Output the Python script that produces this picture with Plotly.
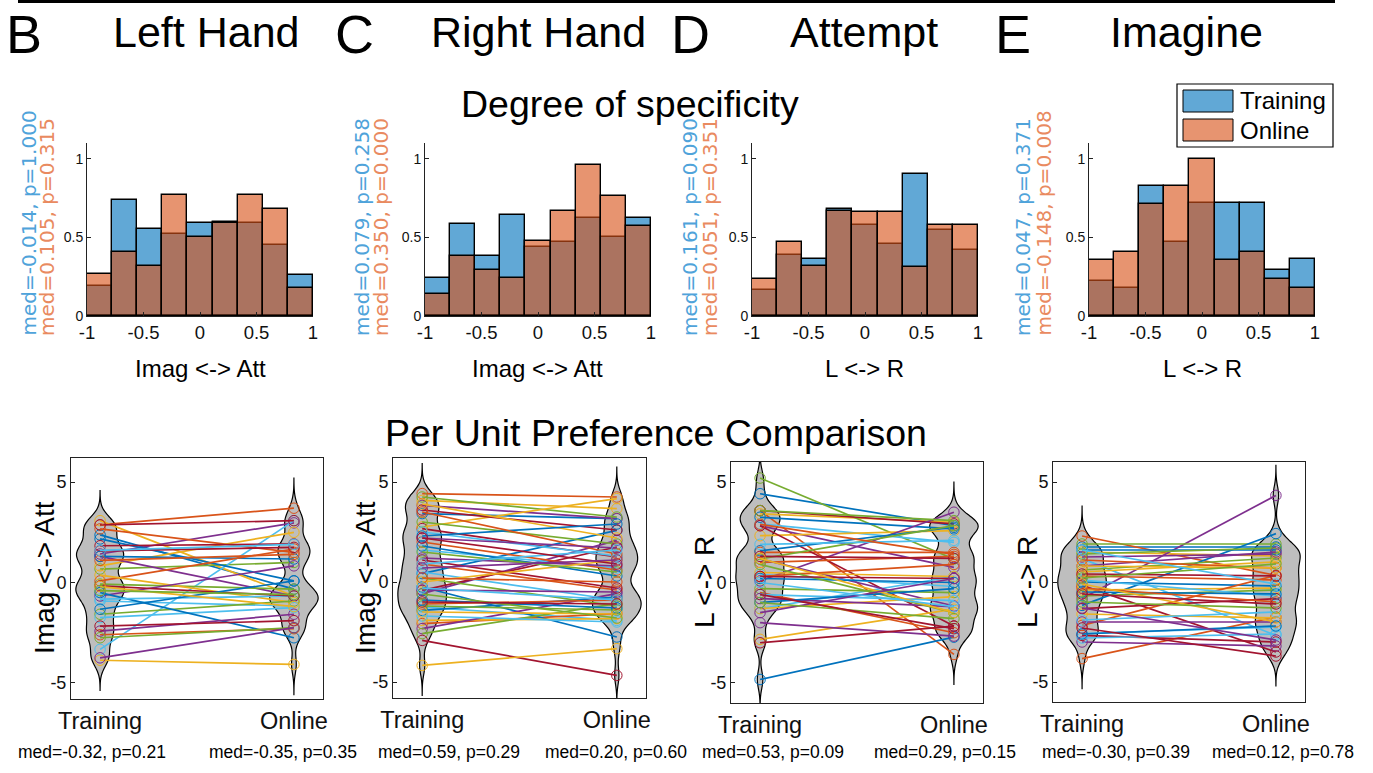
import plotly.graph_objects as go

W, H = 1373, 773


def px(x):
    return x / W


def py(y):
    return 1 - y / H


# ---------------- data ----------------
bin_centers = [-0.889, -0.667, -0.444, -0.222, 0.0, 0.222, 0.444, 0.667, 0.889]
bin_width = 2 / 9

lh_train = [0.19, 0.74, 0.555, 0.52, 0.59, 0.60, 0.59, 0.45, 0.26]
lh_online = [0.27, 0.41, 0.32, 0.77, 0.50, 0.59, 0.77, 0.68, 0.18]
rh_train = [0.24, 0.585, 0.38, 0.64, 0.44, 0.47, 0.62, 0.50, 0.62]
rh_online = [0.14, 0.38, 0.29, 0.24, 0.48, 0.67, 0.96, 0.765, 0.57]
att_train = [0.165, 0.39, 0.36, 0.68, 0.58, 0.455, 0.905, 0.55, 0.42]
att_online = [0.235, 0.47, 0.32, 0.665, 0.66, 0.66, 0.314, 0.58, 0.58]
img_train = [0.22, 0.18, 0.826, 0.47, 0.72, 0.72, 0.72, 0.29, 0.36]
img_online = [0.356, 0.41, 0.71, 0.826, 1.0, 0.356, 0.41, 0.235, 0.18]

panel_letters = ["B", "C", "D", "E"]
panel_titles = ["Left Hand", "Right Hand", "Attempt", "Imagine"]
hist_xlabels = ["Imag <-> Att", "Imag <-> Att", "L <-> R", "L <-> R"]
hist_med_train = ["med=-0.014, p=1.000", "med=0.079, p=0.258", "med=0.161, p=0.090", "med=0.047, p=0.371"]
hist_med_online = ["med=0.105, p=0.315", "med=0.350, p=0.000", "med=0.051, p=0.351", "med=-0.148, p=0.008"]
series_names = ["Training", "Online"]

# per-unit preference (Training value, Online value)
lh_unit_train = [2.37, 2.87, 3.08, 1.42, 0.67, -3.33, 2.87,
                 2.17, 2.67, 0.83, 1.30, -0.08, -0.92, 1.83,
                 1.30, 0.08, 0.37, -0.67, -1.58, -1.75, 1.58,
                 -0.50, -2.60, -3.87, -2.42, -2.75, -0.83, -0.17,
                 -1.33, 1.10, -0.20, -3.75, -0.40, 1.60, -2.17]
lh_unit_online = [-0.33, 3.70, -0.67, 2.97, 1.00, 3.08, 3.08,
                  0.08, 1.50, 2.50, -0.67, -0.33, -1.17, 1.92,
                  1.17, 1.67, -1.00, 0.83, -0.92, -1.25, 1.75,
                  -2.75, -2.30, -4.08, -1.58, -2.25, -0.67, -0.67,
                  0.08, 1.40, -1.20, -2.25, -0.60, 1.90, -1.90]

rh_unit_train = [3.42, 4.42, 4.08, 3.83, 4.25, -1.25, 2.67,
                 0.42, -2.08, 2.75, -0.58, 3.00, 1.60, -0.42,
                 -0.25, 0.90, -1.92, -2.33, -2.58, 0.50, -2.92,
                 -1.42, 2.00, -4.17, 1.20, 0.20, 2.50, 3.60,
                 1.80, -1.10, 3.90, -0.40, -1.20, -1.70, 1.10,
                 2.30, 3.50, 0.00, 2.20, 1.50, 0.90, 2.20,
                 -0.90, 0.20, -1.50, 0.70, -0.60, -0.30, -1.00]
rh_unit_online = [3.17, 4.25, 3.67, 3.17, 3.25, -1.92, 1.25,
                  2.58, -1.58, 4.17, 2.08, 1.90, 0.70, 1.75,
                  -2.75, -0.40, -1.83, -0.58, -1.08, -0.90, -4.67,
                  -0.75, 0.60, -3.33, 0.80, -1.20, 1.30, 2.60,
                  0.30, -0.90, 2.20, -0.50, -1.40, -2.00, -0.30,
                  2.90, 1.40, 1.10, 1.70, 0.50, 1.60, 0.90,
                  -1.30, 0.00, -1.60, 1.10, -1.80, -0.90, -1.10]

att_unit_train = [4.42, 3.58, 3.42, 2.83, 5.20, 2.92, 3.58,
                  3.25, 1.50, 2.33, 0.08, 3.58, -1.30, 2.83,
                  1.58, 1.00, -2.83, 1.17, 1.17, 0.40, 1.30,
                  -4.83, -0.50, 0.50, -2.00, -0.30, 1.90, -3.00,
                  0.20, 0.30, -1.30, -0.80, 0.90, -0.60, 0.30,
                  -1.00, 2.90, 1.20, -1.50, -1.00, 0.00, -0.60]
att_unit_online = [2.83, -3.58, 3.00, 0.75, 1.17, 2.00, 2.92,
                   2.67, 1.50, 2.58, 3.50, 3.08, 0.30, -2.17,
                   2.75, 1.30, -1.33, -1.17, 2.83, -0.20, 1.20,
                   -2.72, -2.50, 0.30, -2.67, -0.50, 2.10, -2.17,
                   0.00, 0.90, -0.70, -1.20, -1.50, -0.90, 0.20,
                   -0.30, 1.40, -1.50, 0.20, -1.80, -1.20, -2.30]

img_unit_train = [1.75, 2.30, 1.50, -0.83, 1.90, 1.17, -0.17,
                  -1.17, -3.83, -0.40, 1.25, 0.60, -2.58, -2.67,
                  0.00, -2.17, -1.60, -2.00, -0.70, 0.10, -1.33,
                  1.60, 0.30, 0.50, -3.00, 1.40, -1.90, 0.40,
                  -0.50, -0.30, -0.10, 0.80, -1.00, -2.80, -0.60,
                  -2.60, 1.10, 0.80, -1.30, 0.20, 1.60, -2.30]
img_unit_online = [1.75, 0.33, 1.30, 4.33, 1.90, -2.67, -3.50,
                   2.42, -1.75, -0.30, 1.40, 1.20, -2.25, -3.00,
                   -0.20, 0.33, -1.80, -2.00, -0.40, -0.70, -0.83,
                   1.60, 0.10, 1.00, -3.20, 1.70, -1.50, 0.30,
                   -0.60, -1.00, -2.00, 1.50, -1.30, -2.60, -1.10,
                   -2.20, 0.70, 0.70, -2.90, 0.90, -0.10, -3.70]

unit_ylabels = ["Imag <-> Att", "Imag <-> Att", "L <-> R", "L <-> R"]
unit_categories = ["Training", "Online"]
unit_med_train = ["med=-0.32, p=0.21", "med=0.59, p=0.29", "med=0.53, p=0.09", "med=-0.30, p=0.39"]
unit_med_online = ["med=-0.35, p=0.35", "med=0.20, p=0.60", "med=0.29, p=0.15", "med=0.12, p=0.78"]

# ---------------- style ----------------
C_TRAIN = "rgba(0,114,189,0.62)"
C_ONLINE = "rgba(217,83,25,0.62)"
TXT_BLUE = "#4FA3DA"
TXT_ORANGE = "#E98A60"
LINE_COLORS = ["#0072BD", "#D95319", "#EDB120", "#7E2F8E", "#77AC30", "#4DBEEE", "#A2142F"]
SANS = "Liberation Sans, Arial, Helvetica, sans-serif"
NARROW = "Liberation Sans Narrow, Arial Narrow, Liberation Sans, Arial, sans-serif"
WIDE = "DejaVu Sans, Verdana, sans-serif"

hist_sets = [(lh_train, lh_online), (rh_train, rh_online), (att_train, att_online), (img_train, img_online)]
unit_sets = [(lh_unit_train, lh_unit_online), (rh_unit_train, rh_unit_online),
             (att_unit_train, att_unit_online), (img_unit_train, img_unit_online)]

hist_xdom = [(87, 313), (425, 651), (752, 978), (1089, 1315)]
hist_ydom = (143, 316)
unit_xdom = [(71, 323), (393, 646), (731, 983), (1053, 1305)]
unit_ydom = [(458, 699), (458, 698), (462, 703), (462, 702)]
unit_yrange = [(-5.8, 6.2), (-5.8, 6.2), (-6.0, 6.0), (-6.0, 6.0)]

fig = go.Figure()
layout = {}
annotations = []
shapes = []

# ---------------- histograms ----------------
for i, (tr, on) in enumerate(hist_sets):
    k = i + 1
    xa = "x" if k == 1 else f"x{k}"
    ya = "y" if k == 1 else f"y{k}"
    for vals, col, nm in ((tr, C_TRAIN, series_names[0]), (on, C_ONLINE, series_names[1])):
        fig.add_trace(go.Bar(x=bin_centers, y=vals, width=bin_width, name=nm,
                             marker=dict(color=col, line=dict(color="black", width=1.4)),
                             showlegend=False, xaxis=xa, yaxis=ya, hoverinfo="x+y"))
    x0, x1 = hist_xdom[i]
    layout["xaxis" if k == 1 else f"xaxis{k}"] = dict(
        domain=[px(x0), px(x1)], range=[-1, 1], anchor=ya, automargin=False,
        tickvals=[-1, -0.5, 0, 0.5, 1], ticktext=["-1", "-0.5", "0", "0.5", "1"],
        ticks="inside", ticklen=4, tickcolor="#222", showline=True, linecolor="#222", linewidth=1,
        showgrid=False, zeroline=False, tickfont=dict(family=SANS, size=18.5, color="#111"))
    layout["yaxis" if k == 1 else f"yaxis{k}"] = dict(
        domain=[py(hist_ydom[1]), py(hist_ydom[0])], range=[0, 1.1], anchor=xa, automargin=False,
        tickvals=[0, 0.5, 1], ticktext=["0", "0.5", "1"],
        ticks="inside", ticklen=4, tickcolor="#222", showline=True, linecolor="#222", linewidth=1,
        showgrid=False, zeroline=False, tickfont=dict(family=NARROW, size=14, color="#111"))

# ---------------- per unit comparison ----------------
for i, (tr, on) in enumerate(unit_sets):
    k = i + 5
    xa, ya = f"x{k}", f"y{k}"
    for pos, vals in ((1, tr), (2, on)):
        fig.add_trace(go.Violin(y=vals, x0=pos, width=0.25, side="both", bandwidth=0.45,
                                spanmode="manual", span=[min(vals) - 1.5, max(vals) + 1.5],
                                scalemode="width", points=False,
                                box=dict(visible=False), meanline=dict(visible=False),
                                fillcolor="rgb(190,190,190)", line=dict(color="black", width=1.2),
                                opacity=1, showlegend=False, hoverinfo="skip",
                                xaxis=xa, yaxis=ya))
    for j, (a, b) in enumerate(zip(tr, on)):
        c = LINE_COLORS[j % len(LINE_COLORS)]
        fig.add_trace(go.Scatter(x=[1, 2], y=[a, b], mode="lines+markers",
                                 line=dict(color=c, width=1.7),
                                 marker=dict(symbol="circle-open", size=10.5, color=c, line=dict(width=1)),
                                 showlegend=False, xaxis=xa, yaxis=ya))
    x0, x1 = unit_xdom[i]
    y0, y1 = unit_ydom[i]
    layout[f"xaxis{k}"] = dict(
        domain=[px(x0), px(x1)], range=[0.85, 2.15], anchor=ya, automargin=False,
        tickvals=[1, 2], ticktext=unit_categories, ticks="", ticklabelstandoff=1,
        showline=True, mirror=True, linecolor="#222", linewidth=1,
        showgrid=False, zeroline=False, tickfont=dict(family=SANS, size=23.5, color="#111"))
    layout[f"yaxis{k}"] = dict(
        domain=[py(y1), py(y0)], range=list(unit_yrange[i]), anchor=xa, automargin=False,
        tickvals=[-5, 0, 5], ticktext=["-5", "0", "5"],
        ticks="inside", ticklen=4, tickcolor="#222",
        showline=True, mirror=True, linecolor="#222", linewidth=1,
        showgrid=False, zeroline=False, tickfont=dict(family=NARROW, size=18, color="#111"))


# ---------------- text ----------------
def ann(text, x, y, size, family=SANS, color="#000", angle=0, xanchor="center", yanchor="middle"):
    annotations.append(dict(text=text, x=px(x), y=py(y), xref="paper", yref="paper",
                            showarrow=False, font=dict(family=family, size=size, color=color),
                            textangle=angle, xanchor=xanchor, yanchor=yanchor))


letter_x = [24, 354, 690, 1013]
title_x = [206, 538, 864, 1186]
for i in range(4):
    ann(panel_letters[i], letter_x[i], 34, 54)
    ann(panel_titles[i], title_x[i], 32, 43)

ann("Degree of specificity", 630, 104, 37.5)
ann("Per Unit Preference Comparison", 656, 433, 37.5)

hist_xlabel_x = [200, 537, 864, 1202]
med_blue_x = [28, 362, 690, 1023]
med_orange_x = [47, 381, 710, 1043]
for i in range(4):
    ann(hist_xlabels[i], hist_xlabel_x[i], 368, 24, family=NARROW)
    ann(hist_med_train[i], med_blue_x[i], 338, 20, family=WIDE, color=TXT_BLUE, angle=-90, yanchor="bottom")
    ann(hist_med_online[i], med_orange_x[i], 338, 20, family=WIDE, color=TXT_ORANGE, angle=-90, yanchor="bottom")

unit_ylabel_x = [44, 365, 704, 1027]
unit_ylabel_y = [578, 578, 582, 582]
med_tr_x = [92, 449, 773, 1116]
med_on_x = [283, 616, 945, 1283]
for i in range(4):
    ann(unit_ylabels[i], unit_ylabel_x[i], unit_ylabel_y[i], 28, angle=-90)
    ann(unit_med_train[i], med_tr_x[i], 752, 17.5)
    ann(unit_med_online[i], med_on_x[i], 752, 17.5)

# ---------------- legend (drawn) ----------------
shapes.append(dict(type="rect", xref="paper", yref="paper", x0=px(1177), x1=px(1333), y0=py(147), y1=py(84),
                   line=dict(color="black", width=1.2), fillcolor="white", layer="above"))
shapes.append(dict(type="rect", xref="paper", yref="paper", x0=px(1183), x1=px(1233), y0=py(112), y1=py(90),
                   line=dict(color="black", width=1), fillcolor=C_TRAIN, layer="above"))
shapes.append(dict(type="rect", xref="paper", yref="paper", x0=px(1183), x1=px(1233), y0=py(141), y1=py(119),
                   line=dict(color="black", width=1), fillcolor=C_ONLINE, layer="above"))
ann(series_names[0], 1238, 101, 24, xanchor="left")
ann(series_names[1], 1238, 130, 24, xanchor="left")

# top rule
shapes.append(dict(type="line", xref="paper", yref="paper", x0=px(18), x1=px(1335), y0=py(1.5), y1=py(1.5),
                   line=dict(color="black", width=3)))

fig.update_layout(
    width=W, height=H, margin=dict(l=0, r=0, t=0, b=0, autoexpand=False),
    paper_bgcolor="white", plot_bgcolor="white",
    barmode="overlay", bargap=0, violinmode="overlay",
    showlegend=False, annotations=annotations, shapes=shapes,
    **layout)

fig.write_html("out.html", config={"displayModeBar": False},
               post_script="document.body.style.margin='0px';document.body.style.overflow='hidden';")
